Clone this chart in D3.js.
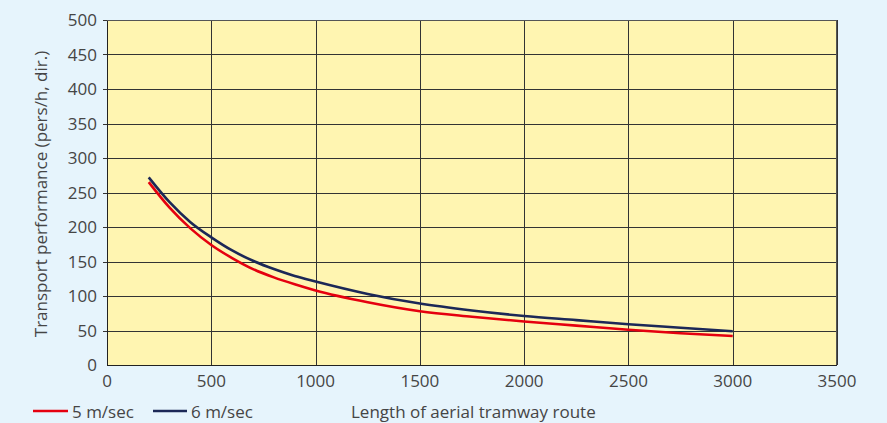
<!DOCTYPE html>
<html><head><meta charset="utf-8">
<script src="https://cdn.jsdelivr.net/npm/d3@7"></script>
<style>
body{margin:0;background:#e6f4fc;}
svg{display:block;font-family:"Open Sans", Roboto, sans-serif;}
</style></head>
<body>
<svg id="c" width="887" height="423"></svg>
<script>
const lengths = [200,300,400,500,600,700,800,900,1000,1250,1500,1750,2000,2250,2500,2750,3000];
const speed5 = [265,228,198,174,155,139,127,117,108,91,78,70,63,57,51,46,42];
const speed6 = [272,236,207,185,166,151,139,129,121,103,89,79,71,65,59,54,49];
const xTicks = [0,500,1000,1500,2000,2500,3000,3500];
const yTicks = [0,50,100,150,200,250,300,350,400,450,500];
const seriesNames = ["5 m/sec","6 m/sec"];
const colors = ["#e5000f","#1c2857"];

const svg = d3.select("#c");
const m = {l:107, t:20, r:837, b:365};
const x = d3.scaleLinear().domain([0,3500]).range([m.l,m.r]);
const y = d3.scaleLinear().domain([0,500]).range([m.b,m.t]);
const fs = 17, tc = "#454545";

svg.append("rect").attr("x",m.l).attr("y",m.t).attr("width",m.r-m.l).attr("height",m.b-m.t).attr("fill","#fff5b1");

// grid
svg.append("g").selectAll("line").data(xTicks.slice(1)).join("line")
  .attr("x1",d=>Math.round(x(d))+0.5).attr("x2",d=>Math.round(x(d))+0.5)
  .attr("y1",m.t).attr("y2",m.b).attr("stroke","#333").attr("stroke-width",1);
svg.append("g").selectAll("line").data(yTicks.slice(1)).join("line")
  .attr("x1",m.l-4).attr("x2",m.r)
  .attr("y1",d=>Math.round(y(d))+0.5).attr("y2",d=>Math.round(y(d))+0.5).attr("stroke","#333").attr("stroke-width",1);
// frame
svg.append("line").attr("x1",m.l+0.5).attr("x2",m.l+0.5).attr("y1",m.t).attr("y2",m.b).attr("stroke","#222");
svg.append("line").attr("x1",m.l).attr("x2",m.r).attr("y1",m.b+0.5).attr("y2",m.b+0.5).attr("stroke","#222");
svg.append("line").attr("x1",m.r-0.5).attr("x2",m.r-0.5).attr("y1",m.t).attr("y2",m.b).attr("stroke","#555");
svg.append("line").attr("x1",m.l).attr("x2",m.r).attr("y1",m.t+0.5).attr("y2",m.t+0.5).attr("stroke","#555");

// tick labels
svg.append("g").selectAll("text").data(yTicks).join("text")
  .attr("x",m.l-10).attr("y",d=>y(d)+6).attr("text-anchor","end")
  .attr("font-size",fs).attr("fill",tc).text(d=>d);
svg.append("g").selectAll("text").data(xTicks).join("text")
  .attr("x",d=>x(d)).attr("y",387).attr("text-anchor","middle")
  .attr("font-size",fs).attr("fill",tc).text(d=>d);

// lines
const line = d3.line().curve(d3.curveMonotoneX);
[speed5,speed6].forEach((s,i)=>{
  svg.append("path").attr("d",line(lengths.map((L,j)=>[x(L),y(s[j])])))
    .attr("fill","none").attr("stroke",colors[i]).attr("stroke-width",2.6);
});

// y title
svg.append("text").attr("transform","translate(47,194) rotate(-90)")
  .attr("text-anchor","middle").attr("font-size",fs).attr("fill",tc)
  .text("Transport performance (pers/h, dir.)");

// legend
const lg = [{x:33,x2:68,tx:72},{x:153,x2:187,tx:191}];
seriesNames.forEach((n,i)=>{
  svg.append("line").attr("x1",lg[i].x).attr("x2",lg[i].x2).attr("y1",411).attr("y2",411)
    .attr("stroke",colors[i]).attr("stroke-width",2.5);
  svg.append("text").attr("x",lg[i].tx).attr("y",418).attr("font-size",fs).attr("fill",tc).text(n);
});
svg.append("text").attr("x",351).attr("y",418).attr("font-size",fs).attr("fill",tc).text("Length of aerial tramway route");
</script>
</body></html>
